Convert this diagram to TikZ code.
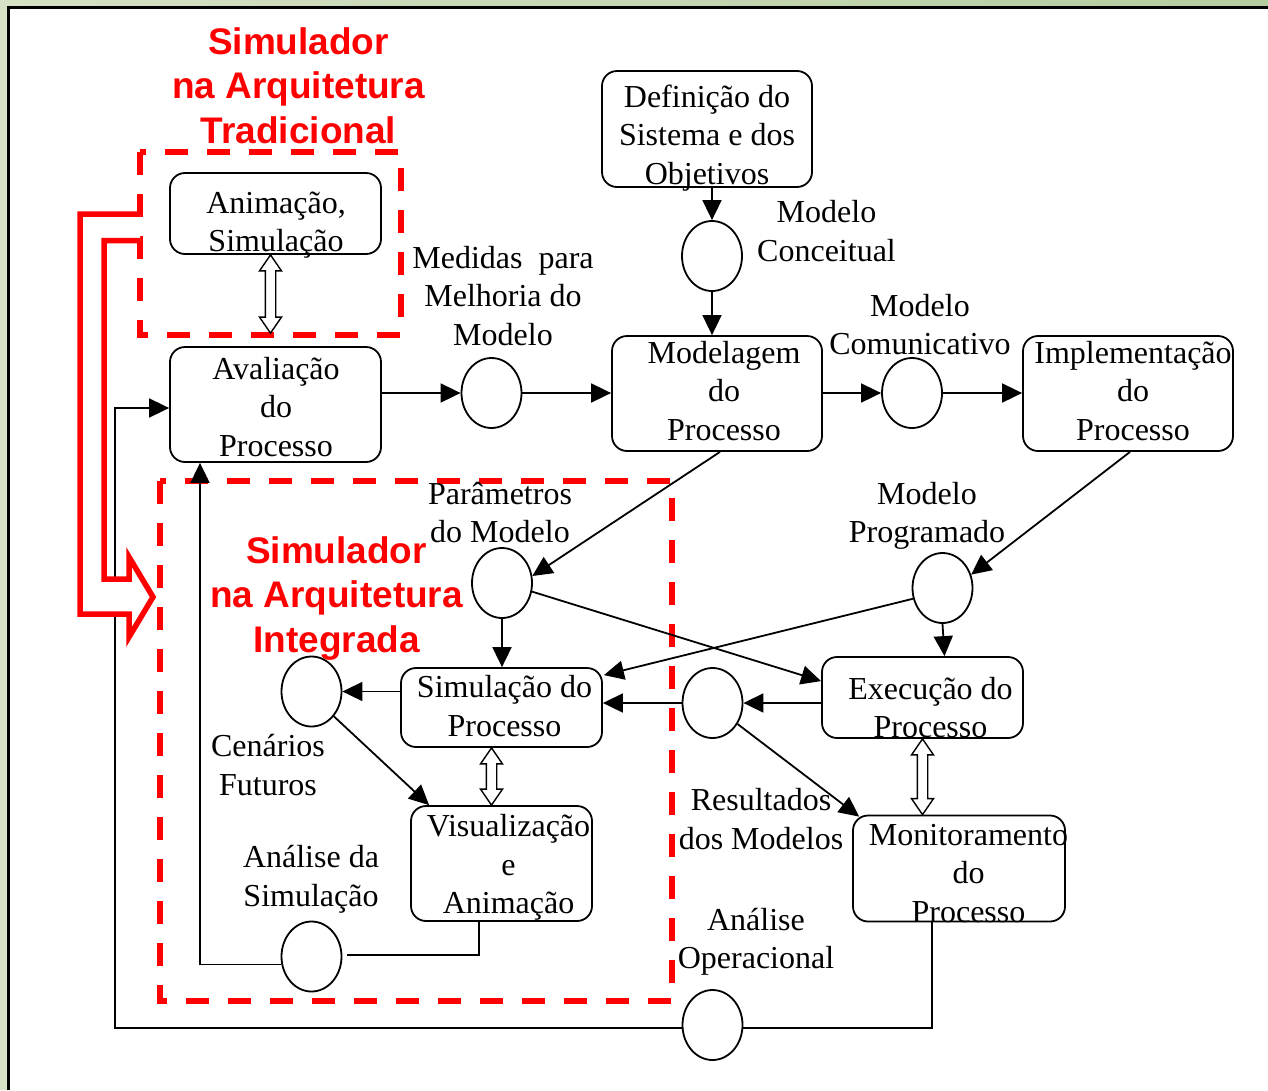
\documentclass[tikz,border=0pt]{standalone}
\usepackage{fontspec}
\setmainfont{Liberation Serif}
\newfontfamily\titlefont{Liberation Sans}
\usetikzlibrary{arrows.meta,shapes.geometric,calc}
\definecolor{bggreen}{RGB}{214,225,198}
\definecolor{bggreendark}{RGB}{181,205,160}
\newcommand\hollowarrow[2]{%
  \draw[line width=1.4pt, fill=white, line join=miter] let \p1=#1, \p2=#2 in
   (\x1,\y1) -- (\x1+11pt,\y1-16pt) -- (\x1+5.2pt,\y1-16pt) -- (\x1+5.2pt,\y2+16pt)
   -- (\x1+11pt,\y2+16pt) -- (\x1,\y2) -- (\x1-11pt,\y2+16pt) -- (\x1-5.2pt,\y2+16pt)
   -- (\x1-5.2pt,\y1-16pt) -- (\x1-11pt,\y1-16pt) -- cycle;}
\begin{document}
\begin{tikzpicture}[x=1pt,y=-1pt,
  pbox/.style={draw, line width=1.8pt, rounded corners=15pt, inner sep=0pt},
  circ/.style={draw, ellipse, line width=1.8pt, minimum width=60, minimum height=70, inner sep=0pt},
  txt/.style={align=center, anchor=base, inner sep=0pt, font=\fontsize{32}{38.5}\selectfont},
  ttl/.style={align=center, anchor=base, inner sep=0pt, text=red, font=\titlefont\bfseries\fontsize{37}{44.5}\selectfont},
  arr/.style={line width=1.8pt, -{Triangle[length=20pt,width=19pt]}},
  ln/.style={line width=1.8pt},
  reddash/.style={draw=red, line width=5.5pt, dash pattern=on 23pt off 19pt}]
\useasboundingbox (0,0) rectangle (1268,1090);
% background / frame
\fill[bggreen] (0,0) rectangle (1268,1090);
\shade[left color=bggreen, right color=bggreendark] (0,0) rectangle (1268,7.5);
\fill[white] (8.5,7.5) rectangle (1268,1090);
\draw[line width=2.6pt] (8.5,1090) -- (8.5,7.5) -- (1268,7.5);

% red dashed regions
\draw[reddash] (140,152) rectangle (401,335);
\draw[reddash] (160,481) rectangle (672,1001);

% boxes
\node[pbox, minimum width=210, minimum height=116] (def) at (707,129) {};
\node[pbox, minimum width=211, minimum height=81] (anim) at (275.5,213.5) {};
\node[pbox, minimum width=211, minimum height=115] (aval) at (275.5,404.5) {};
\node[pbox, minimum width=210, minimum height=115] (model) at (717,393.5) {};
\node[pbox, minimum width=210, minimum height=115] (impl) at (1128,393.5) {};
\node[pbox, minimum width=201, minimum height=79] (simproc) at (501.5,707.5) {};
\node[pbox, minimum width=201, minimum height=81] (exec) at (922.5,697.5) {};
\node[pbox, minimum width=181, minimum height=115] (visual) at (501.5,863.5) {};
\node[pbox, minimum width=212, minimum height=106] (monit) at (959,868.5) {};

% circles
\node[circ] (conc) at (712,256) {};
\node[circ] (med) at (491.5,393) {};
\node[circ] (com) at (912,393) {};
\node[circ] (param) at (502,583) {};
\node[circ] (prog) at (942.5,588) {};
\node[circ] (cen) at (311.5,691.5) {};
\node[circ] (res) at (712.5,703) {};
\node[circ] (asim) at (311.5,956.5) {};
\node[circ] (oper) at (712.5,1025) {};

% connectors
\draw[arr] (conc.north |- def.south) -- (conc.north);
\draw[arr] (conc.south) -- (conc.south |- model.north);
\draw[arr] (aval.east |- med.west) -- (med.west);
\draw[arr] (med.east) -- (med.east -| model.west);
\draw[arr] (model.east |- com.west) -- (com.west);
\draw[arr] (com.east) -- (com.east -| impl.west);
\draw[arr] ($(impl.south)+(2,0)$) -- (prog.25);
\draw[arr] (prog.south) -- ($(prog.south |- exec.north)+(2,0)$);
\draw[arr] (prog.200) -- ($(simproc.north east)+(1,8)$);
\draw[arr] ($(model.south)+(3,0)$) -- (param.13);
\draw[arr] (param.-16) -- ($(exec.north west)+(0,25)$);
\draw[arr] (param.south) -- (param.south |- simproc.north);
\draw[arr] (exec.west |- res.east) -- (res.east);
\draw[arr] (res.west) -- (res.west -| simproc.east);
\draw[arr] (res.-40) -- ($(monit.north west)+(7,2)$);
\draw[arr] (cen.east -| simproc.west) -- (cen.east);
\draw[arr] (cen.-48) -- ($(visual.north west)+(19,0)$);
\draw[ln] ($(visual.south)+(-22.5,0)$) |- ($(asim.east)+(5,-1.5)$);
\draw[arr] (asim.195) -| ($(aval.south)+(-75.5,0)$);
\draw[arr] (oper.186) -| ($(aval.west)+(-54,3.5)$) -- ($(aval.west)+(0,3.5)$);
\draw[ln] ($(monit.south)+(-27,0)$) |- (oper.354);

% hollow double arrows
\hollowarrow{($(anim.south)+(-5,0)$)}{($(aval.north)+(-5,-13)$)}
\hollowarrow{($(simproc.south)+(-10,0)$)}{($(visual.north)+(-10,0)$)}
\hollowarrow{(exec.south)}{(exec.south |- monit.north)}

% big red outlined arrow
\draw[red, line width=5.5pt, fill=white, line join=miter]
  (140,214) -- (80,214) -- (80,614) -- (129,614) -- (129,637) -- (153,597)
  -- (129,557) -- (129,579) -- (104,579) -- (104,240.5) -- (140,240.5);

% texts (positioned at the baseline of their last line)
\node[txt] (defT) at (707,184) {Definição do\\Sistema e dos\\Objetivos};
\node[txt] (animT) at (276,251.5) {Animação,\\Simulação};
\node[txt] (avalT) at (276,456) {Avaliação\\do\\Processo};
\node[txt] (modelT) at (724,440) {Modelagem\\do\\Processo};
\node[txt] (implT) at (1133,440) {Implementação\\do\\Processo};
\node[txt] (simprocT) at (504.5,736) {Simulação do\\Processo};
\node[txt] (execT) at (930.5,737.5) {Execução do\\Processo};
\node[txt] (visualT) at (508.5,913.5) {Visualização\\e\\Animação};
\node[txt] (monitT) at (968.5,922) {Monitoramento\\do\\Processo};
\node[txt] (medT) at (503,345) {Medidas\ \ para\\Melhoria do\\Modelo};
\node[txt] (concT) at (826.5,261.2) {Modelo\\Conceitual};
\node[txt] (comT) at (920,354.5) {Modelo\\Comunicativo};
\node[txt] (progT) at (927,542.5) {Modelo\\Programado};
\node[txt] (paramT) at (500,542.8) {Parâmetros\\do Modelo};
\node[txt] (cenT) at (268,795.2) {Cenários\\Futuros};
\node[txt] (asimT) at (311,906.2) {Análise da\\Simulação};
\node[txt] (resT) at (761,849.2) {Resultados\\dos Modelos};
\node[txt] (operT) at (756,968.5) {Análise\\Operacional};
\node[ttl] (title1) at (298.5,143) {Simulador\\na Arquitetura\\Tradicional};
\node[ttl] (title2) at (336.5,652) {Simulador\\na Arquitetura\\Integrada};
\end{tikzpicture}
\end{document}
